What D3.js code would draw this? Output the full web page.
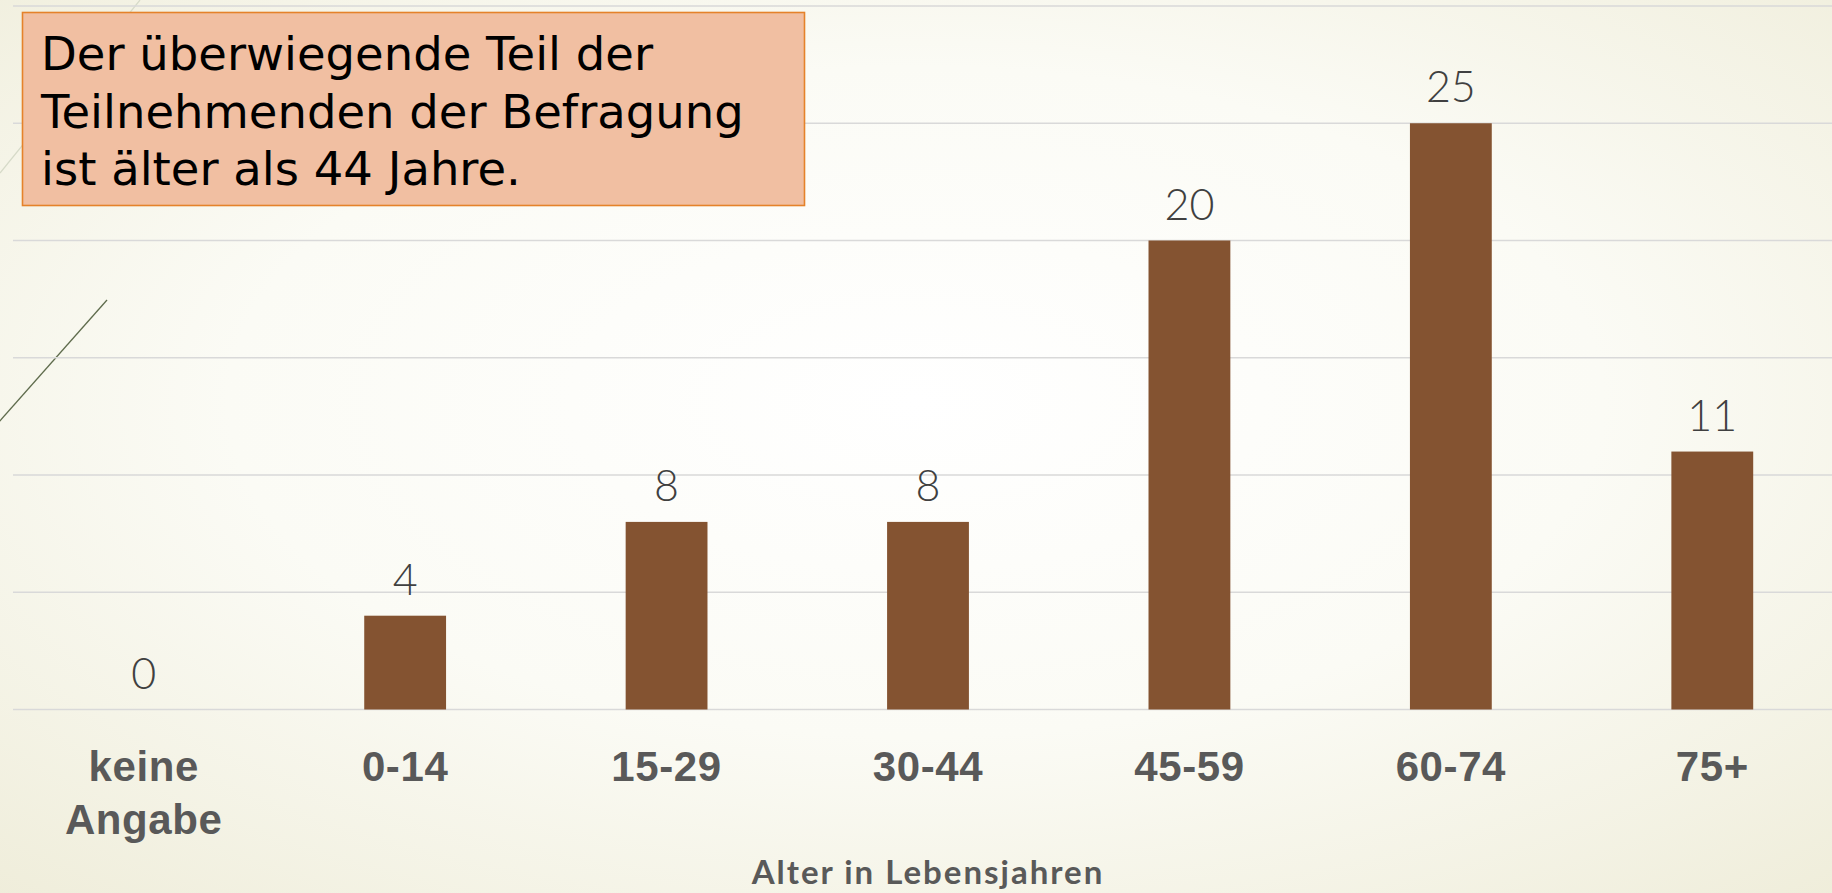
<!DOCTYPE html>
<html>
<head>
<meta charset="utf-8">
<script src="https://cdn.jsdelivr.net/npm/d3@7"></script>
<style>
	html, body { margin: 0; padding: 0; overflow: hidden; }
	body { width: 1832px; height: 893px; }
	svg { display: block; font-family: Lato, "Noto Sans", sans-serif; }
</style>
</head>
<body>
<svg id="chart" width="1832" height="893"></svg>
<script>
var categories = ['keine Angabe', '0-14', '15-29', '30-44', '45-59', '60-74', '75+'],
	values = [0, 4, 8, 8, 20, 25, 11],
	gridTicks = [0, 5, 10, 15, 20, 25, 30],
	axisTitle = 'Alter in Lebensjahren',
	noteLines = ['Der überwiegende Teil der', 'Teilnehmenden der Befragung', 'ist älter als 44 Jahre.'];

var W = 1832, H = 893;
var svg = d3.select('#chart');

// background: soft cream with a bright centre
var defs = svg.append('defs');
var bg = defs.append('radialGradient')
	.attr('id', 'bg')
	.attr('cx', '50%').attr('cy', '45%').attr('r', '75%');
bg.append('stop').attr('offset', '0%').attr('stop-color', '#ffffff');
bg.append('stop').attr('offset', '50%').attr('stop-color', '#fbfbf5');
bg.append('stop').attr('offset', '100%').attr('stop-color', '#efedda');
svg.append('rect').attr('width', W).attr('height', H).attr('fill', 'url(#bg)');

// theme wisps on the left
svg.append('line')
	.attr('x1', 140).attr('y1', 0).attr('x2', 0).attr('y2', 173)
	.attr('stroke', '#d6dac8').attr('stroke-width', 1.2);
svg.append('line')
	.attr('x1', 107).attr('y1', 300).attr('x2', -10).attr('y2', 432)
	.attr('stroke', '#5e6b4c').attr('stroke-width', 1.3);

var x = d3.scaleBand()
	.domain(categories)
	.range([13, 1843])
	.paddingInner(0.687)
	.paddingOuter(0.3435);

var y = d3.scaleLinear()
	.domain([0, 30])
	.range([709.5, 6]);

// gridlines
svg.append('g')
	.selectAll('line')
	.data(gridTicks)
	.enter()
	.append('line')
	.attr('x1', 13)
	.attr('x2', W)
	.attr('y1', function(d){ return y(d); })
	.attr('y2', function(d){ return y(d); })
	.attr('stroke', '#d9d9d9')
	.attr('stroke-width', 1.5);

// bars
var data = categories.map(function(c, i){ return {cat: c, val: values[i]}; });

svg.append('g')
	.selectAll('rect')
	.data(data)
	.enter()
	.append('rect')
	.attr('x', function(d){ return x(d.cat); })
	.attr('width', x.bandwidth())
	.attr('y', function(d){ return y(d.val); })
	.attr('height', function(d){ return y(0) - y(d.val); })
	.attr('fill', '#845331');

// value labels
svg.append('g')
	.selectAll('text')
	.data(data)
	.enter()
	.append('text')
	.attr('x', function(d){ return x(d.cat) + x.bandwidth() / 2; })
	.attr('y', function(d){ return y(d.val) - 21; })
	.attr('text-anchor', 'middle')
	.attr('font-size', 43)
	.attr('font-weight', 300)
	.attr('fill', '#404040')
	.text(function(d){ return d.val; });

// category axis (no line, just labels)
var xAxis = svg.append('g')
	.attr('transform', 'translate(0,' + y(0) + ')')
	.call(d3.axisBottom(x).tickSize(0).tickFormat(''));
xAxis.select('.domain').remove();

xAxis.selectAll('.tick')
	.append('text')
	.attr('text-anchor', 'middle')
	.attr('font-size', 42)
	.attr('font-weight', 700)
	.attr('letter-spacing', 0.6)
	.attr('fill', '#595959')
	.each(function(d){
		var words = d.split(' ');
		d3.select(this).selectAll('tspan')
			.data(words)
			.enter()
			.append('tspan')
			.attr('x', 0)
			.attr('y', function(w, i){ return 71 + i * 53; })
			.text(function(w){ return w; });
	});

// axis title
svg.append('text')
	.attr('x', (x.range()[0] + x.range()[1]) / 2)
	.attr('y', 884)
	.attr('text-anchor', 'middle')
	.attr('font-size', 33)
	.attr('font-weight', 700)
	.attr('letter-spacing', 2)
	.attr('fill', '#595959')
	.text(axisTitle);

// note box
var note = svg.append('g');
note.append('rect')
	.attr('x', 22.5).attr('y', 12.5)
	.attr('width', 782).attr('height', 193)
	.attr('fill', '#f1bfa2')
	.attr('stroke', '#e5822a')
	.attr('stroke-width', 1.6);
note.selectAll('text')
	.data(noteLines)
	.enter()
	.append('text')
	.attr('x', 41)
	.attr('y', function(d, i){ return 70 + i * 57.5; })
	.attr('font-family', '"DejaVu Sans", sans-serif')
	.attr('font-size', 46.5)
	.attr('fill', '#000')
	.text(function(d){ return d; });
</script>
</body>
</html>
